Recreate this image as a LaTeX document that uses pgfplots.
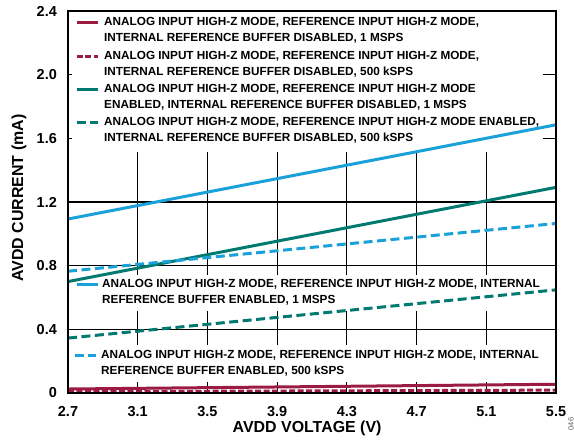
\documentclass[border=0pt]{standalone}
\usepackage{pgfplots}
\pgfplotsset{compat=1.18}
\usepackage{fontspec}
\setmainfont{Liberation Sans}
\definecolor{cmaroon}{RGB}{155,27,66}
\definecolor{cteal}{RGB}{0,122,112}
\definecolor{ccyan}{RGB}{27,161,218}
\newcommand{\twol}[2]{\vbox{\hbox{\strut #1}\hbox{\strut #2}\kern0pt}}
\begin{document}
\begin{tikzpicture}[x=1bp,y=1bp]
\pgfplotsset{
  base/.style={
    scale only axis, width=488bp, height=382bp, at={(0,0)}, anchor=south west,
    xmin=2.7, xmax=5.5, ymin=0, ymax=2.4,
    xtick={2.7,3.1,3.5,3.9,4.3,4.7,5.1,5.5},
    ytick={0,0.4,0.8,1.2,1.6,2.0,2.4},
    major tick length=0pt,
  },
  lg/.style={
    legend cell align=left,
    legend style={fill=white, draw=none, inner sep=#1,
      font=\bfseries\fontsize{11.8}{16}\selectfont,
      row sep=0pt, column sep=5bp,
      nodes={inner sep=0pt}},
    legend image code/.code={\draw[##1] (0bp,8.6bp) -- (21bp,8.6bp);},
  },
  mS/.style={cmaroon, line width=3bp},
  mD/.style={cmaroon, line width=3bp, dash pattern=on 6bp off 2.5bp},
  tS/.style={cteal, line width=3bp},
  tD/.style={cteal, line width=3bp, dash pattern=on 9bp off 4.5bp},
  cS/.style={ccyan, line width=3bp},
  cD/.style={ccyan, line width=3bp, dash pattern=on 9bp off 4.5bp},
}
\path[use as bounding box] (-68,-53) rectangle (506,393);
% grid and first legend (behind the data)
\begin{axis}[base, lg=3.5bp,
  axis line style={draw=none},
  xticklabels={}, yticklabels={},
  grid=major, grid style={black, line width=1.2bp},
  legend style={at={(rel axis cs:0.0072,1)}, anchor=north west},
]
\addlegendimage{mS}
\addlegendentry{\twol{ANALOG INPUT HIGH-Z MODE, REFERENCE INPUT HIGH-Z MODE,}{INTERNAL REFERENCE BUFFER DISABLED, 1 MSPS}}
\addlegendimage{mD}
\addlegendentry{\twol{ANALOG INPUT HIGH-Z MODE, REFERENCE INPUT HIGH-Z MODE,}{INTERNAL REFERENCE BUFFER DISABLED, 500 kSPS}}
\addlegendimage{tS}
\addlegendentry{\twol{ANALOG INPUT HIGH-Z MODE, REFERENCE INPUT HIGH-Z MODE}{ENABLED, INTERNAL REFERENCE BUFFER DISABLED, 1 MSPS}}
\addlegendimage{tD}
\addlegendentry{\twol{ANALOG INPUT HIGH-Z MODE, REFERENCE INPUT HIGH-Z MODE ENABLED,}{INTERNAL REFERENCE BUFFER DISABLED, 500 kSPS}}
\end{axis}
% legend entry 5
\begin{axis}[base, hide axis, lg=1.5bp,
  legend style={at={(rel axis cs:0.0113,0.3107)}, anchor=north west, column sep=3bp},
]
\addlegendimage{cS}
\addlegendentry{\twol{ANALOG INPUT HIGH-Z MODE, REFERENCE INPUT HIGH-Z MODE, INTERNAL}{REFERENCE BUFFER ENABLED, 1 MSPS}}
\end{axis}
% legend entry 6
\begin{axis}[base, hide axis, lg=1.5bp,
  legend style={at={(rel axis cs:0.0072,0.1249)}, anchor=north west, column sep=4bp},
]
\addlegendimage{cD}
\addlegendentry{\twol{ANALOG INPUT HIGH-Z MODE, REFERENCE INPUT HIGH-Z MODE, INTERNAL}{REFERENCE BUFFER ENABLED, 500 kSPS}}
\end{axis}
% data, frame, tick labels and axis labels
\begin{axis}[base, axis on top,
  axis line style={black, line width=1.5bp},
  xticklabels={2.7,3.1,3.5,3.9,4.3,4.7,5.1,5.5},
  yticklabels={0,0.4,0.8,1.2,1.6,2.0,2.4},
  tick label style={font=\bfseries\fontsize{14.5}{16}\selectfont, inner sep=0pt},
  xticklabel style={anchor=north, yshift=-13bp},
  yticklabel style={anchor=east, xshift=-11bp},
  xlabel={AVDD VOLTAGE (V)},
  ylabel={AVDD CURRENT (mA)},
  label style={font=\bfseries\fontsize{16}{18}\selectfont, inner sep=0pt},
  xlabel style={at={(axis description cs:0.49,-0.0916)}, anchor=center},
  ylabel style={at={(axis description cs:-0.1004,0.51)}, anchor=center, rotate=0},
]
\addplot[mS] coordinates {(2.7,0.025) (5.5,0.055)};
\addplot[mD] coordinates {(2.7,0.008) (5.5,0.018)};
\addplot[tS] coordinates {(2.7,0.700) (5.5,1.292)};
\addplot[tD] coordinates {(2.7,0.345) (5.5,0.648)};
\addplot[cS] coordinates {(2.7,1.093) (5.5,1.685)};
\addplot[cD] coordinates {(2.7,0.765) (5.5,1.065)};
\end{axis}
\node[rotate=90, text=black!65, font=\fontsize{7.5}{8}\selectfont, inner sep=0pt] at (503,-31) {046};
\end{tikzpicture}
\end{document}
